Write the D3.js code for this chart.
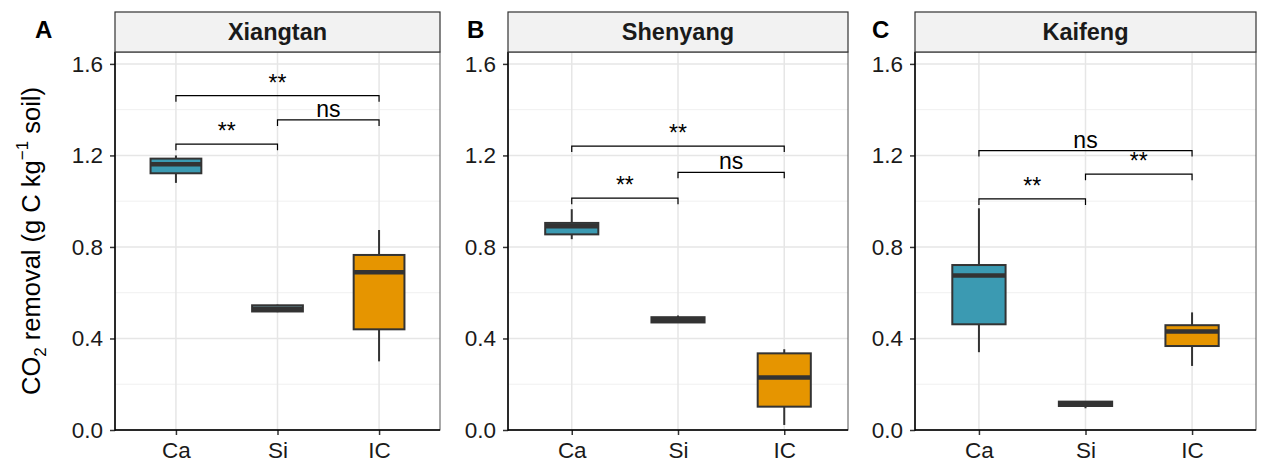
<!DOCTYPE html>
<html>
<head>
<meta charset="utf-8">
<title>CO2 removal boxplots</title>
<style>
  body, html { margin: 0; padding: 0; background: #fff; }
  svg { display: block; font-family: "Liberation Sans", Arial, sans-serif; }
</style>
</head>
<body>
<svg id="svg" width="1267" height="475"></svg>
<script src="https://d3js.org/d3.v7.min.js"></script>
<script>
  // categories and panels
  const categories = ['Ca', 'Si', 'IC']
  const sites = ['Xiangtan', 'Shenyang', 'Kaifeng']
  const panelLetters = ['A', 'B', 'C']
  const yTicks = [0, 0.4, 0.8, 1.2, 1.6]
  const yMinor = [0.2, 0.6, 1.0, 1.4]

  // box stats per category: [lower whisker, q1, median, q3, upper whisker]
  const xiangtanStats = [
    [1.08, 1.122, 1.161, 1.186, 1.20],
    [0.515, 0.518, 0.53, 0.545, 0.548],
    [0.30, 0.44, 0.689, 0.765, 0.874]
  ]
  const shenyangStats = [
    [0.834, 0.855, 0.89, 0.905, 0.965],
    [0.469, 0.47, 0.48, 0.493, 0.50],
    [0.022, 0.102, 0.229, 0.335, 0.353]
  ]
  const kaifengStats = [
    [0.34, 0.462, 0.675, 0.721, 0.969],
    [0.095, 0.105, 0.113, 0.124, 0.124],
    [0.28, 0.367, 0.43, 0.458, 0.514]
  ]

  // significance brackets: [from, to, height, label]
  const xiangtanSig = [['Ca', 'IC', 1.461, '**'], ['Si', 'IC', 1.355, 'ns'], ['Ca', 'Si', 1.249, '**']]
  const shenyangSig = [['Ca', 'IC', 1.241, '**'], ['Si', 'IC', 1.126, 'ns'], ['Ca', 'Si', 1.013, '**']]
  const kaifengSig = [['Ca', 'IC', 1.221, 'ns'], ['Si', 'IC', 1.118, '**'], ['Ca', 'Si', 1.01, '**']]

  const fills = ['#3b9ab2', '#7fb8c4', '#e69500']

  const statsList = [xiangtanStats, shenyangStats, kaifengStats]
  const sigList = [xiangtanSig, shenyangSig, kaifengSig]

  // layout of each facet (plot area)
  const panels = [
    { left: 115, right: 440, letterX: 35 },
    { left: 508, right: 848, letterX: 467 },
    { left: 915, right: 1256, letterX: 872 }
  ]
  const stripTop = 12
  const plotTop = 52
  const plotBottom = 430

  const svg = d3.select('#svg')

  const yscale = d3.scaleLinear()
    .domain([0, 1.652])
    .range([plotBottom, plotTop])

  panels.forEach((p, i) => {
    const xscale = d3.scalePoint()
      .domain(categories)
      .range([p.left, p.right])
      .padding(0.6)
    const step = xscale.step()
    const boxW = step * 0.5

    const g = svg.append('g')

    // background grid
    g.selectAll('.minor')
      .data(yMinor)
      .join('line')
      .attr('x1', p.left).attr('x2', p.right)
      .attr('y1', d => yscale(d)).attr('y2', d => yscale(d))
      .attr('stroke', '#f0f0f0')
      .attr('stroke-width', 1)
    g.selectAll('.major')
      .data(yTicks)
      .join('line')
      .attr('x1', p.left).attr('x2', p.right)
      .attr('y1', d => yscale(d)).attr('y2', d => yscale(d))
      .attr('stroke', '#e6e6e6')
      .attr('stroke-width', 1.5)
    g.selectAll('.vgrid')
      .data(categories)
      .join('line')
      .attr('x1', d => xscale(d)).attr('x2', d => xscale(d))
      .attr('y1', plotTop).attr('y2', plotBottom)
      .attr('stroke', '#e6e6e6')
      .attr('stroke-width', 1.5)

    // panel border
    g.append('rect')
      .attr('x', p.left).attr('y', plotTop)
      .attr('width', p.right - p.left).attr('height', plotBottom - plotTop)
      .attr('fill', 'none')
      .attr('stroke', '#555')
      .attr('stroke-width', 1)

    // boxplots
    const stats = statsList[i]
    categories.forEach((c, j) => {
      const s = stats[j]
      const cx = xscale(c)
      g.append('line')
        .attr('x1', cx).attr('x2', cx)
        .attr('y1', yscale(s[0])).attr('y2', yscale(s[4]))
        .attr('stroke', '#333')
        .attr('stroke-width', 2)
      g.append('rect')
        .attr('x', cx - boxW / 2)
        .attr('y', yscale(s[3]))
        .attr('width', boxW)
        .attr('height', Math.max(yscale(s[1]) - yscale(s[3]), 0.5))
        .attr('fill', fills[j])
        .attr('stroke', '#333')
        .attr('stroke-width', 2)
      g.append('line')
        .attr('x1', cx - boxW / 2).attr('x2', cx + boxW / 2)
        .attr('y1', yscale(s[2])).attr('y2', yscale(s[2]))
        .attr('stroke', '#333')
        .attr('stroke-width', 4.5)
    })

    // significance brackets
    const tip = 6
    sigList[i].forEach(b => {
      const x1 = xscale(b[0])
      const x2 = xscale(b[1])
      const yb = yscale(b[2])
      g.append('path')
        .attr('d', `M${x1},${yb + tip}V${yb}H${x2}V${yb + tip}`)
        .attr('fill', 'none')
        .attr('stroke', '#000')
        .attr('stroke-width', 1.2)
      g.append('text')
        .attr('x', (x1 + x2) / 2)
        .attr('y', yb - (b[3] === '**' ? 5 : 3))
        .attr('text-anchor', 'middle')
        .attr('font-size', 23)
        .attr('fill', '#000')
        .text(b[3])
    })

    // axes
    const leftAxis = d3.axisLeft(yscale)
      .tickValues(yTicks)
      .tickFormat(d3.format('.1f'))
      .tickSize(5)
      .tickPadding(7)
    const ay = g.append('g')
      .attr('transform', `translate(${p.left}, 0)`)
      .call(leftAxis)
    const bottomAxis = d3.axisBottom(xscale)
      .tickSize(5)
      .tickPadding(7)
    const ax = g.append('g')
      .attr('transform', `translate(0, ${plotBottom})`)
      .call(bottomAxis)
    ;[ay, ax].forEach(a => {
      a.select('.domain').remove()
      a.selectAll('.tick line').attr('stroke', '#333').attr('stroke-width', 1.5)
      a.selectAll('.tick text')
        .attr('font-size', 22.5)
        .attr('fill', '#1a1a1a')
        .attr('font-family', '"Liberation Sans", Arial, sans-serif')
    })

    // axis lines
    g.append('line')
      .attr('x1', p.left).attr('x2', p.left)
      .attr('y1', plotTop).attr('y2', plotBottom + 0.75)
      .attr('stroke', '#000').attr('stroke-width', 1.5)
    g.append('line')
      .attr('x1', p.left).attr('x2', p.right)
      .attr('y1', plotBottom).attr('y2', plotBottom)
      .attr('stroke', '#000').attr('stroke-width', 1.5)

    // strip
    g.append('rect')
      .attr('x', p.left).attr('y', stripTop)
      .attr('width', p.right - p.left).attr('height', plotTop - stripTop)
      .attr('fill', '#f2f2f2')
      .attr('stroke', '#333')
      .attr('stroke-width', 1.2)
    g.append('text')
      .attr('x', (p.left + p.right) / 2)
      .attr('y', (stripTop + plotTop) / 2)
      .attr('dy', '0.36em')
      .attr('text-anchor', 'middle')
      .attr('font-size', 23.5)
      .attr('font-weight', 'bold')
      .attr('fill', '#1a1a1a')
      .text(sites[i])

    // panel letter
    g.append('text')
      .attr('x', p.letterX)
      .attr('y', 38)
      .attr('font-size', 24)
      .attr('font-weight', 'bold')
      .attr('fill', '#000')
      .text(panelLetters[i])
  })

  // y axis title
  const title = svg.append('text')
    .attr('transform', `translate(40, ${(plotTop + plotBottom) / 2}) rotate(-90)`)
    .attr('text-anchor', 'middle')
    .attr('font-size', 25.5)
    .attr('fill', '#000')
  title.append('tspan').text('CO')
  title.append('tspan').attr('font-size', 17).attr('dy', 6).text('2')
  title.append('tspan').attr('dy', -6).text(' removal (g C kg')
  title.append('tspan').attr('font-size', 17).attr('dy', -12).text('\u22121')
  title.append('tspan').attr('dy', 12).text(' soil)')
</script>
</body>
</html>
